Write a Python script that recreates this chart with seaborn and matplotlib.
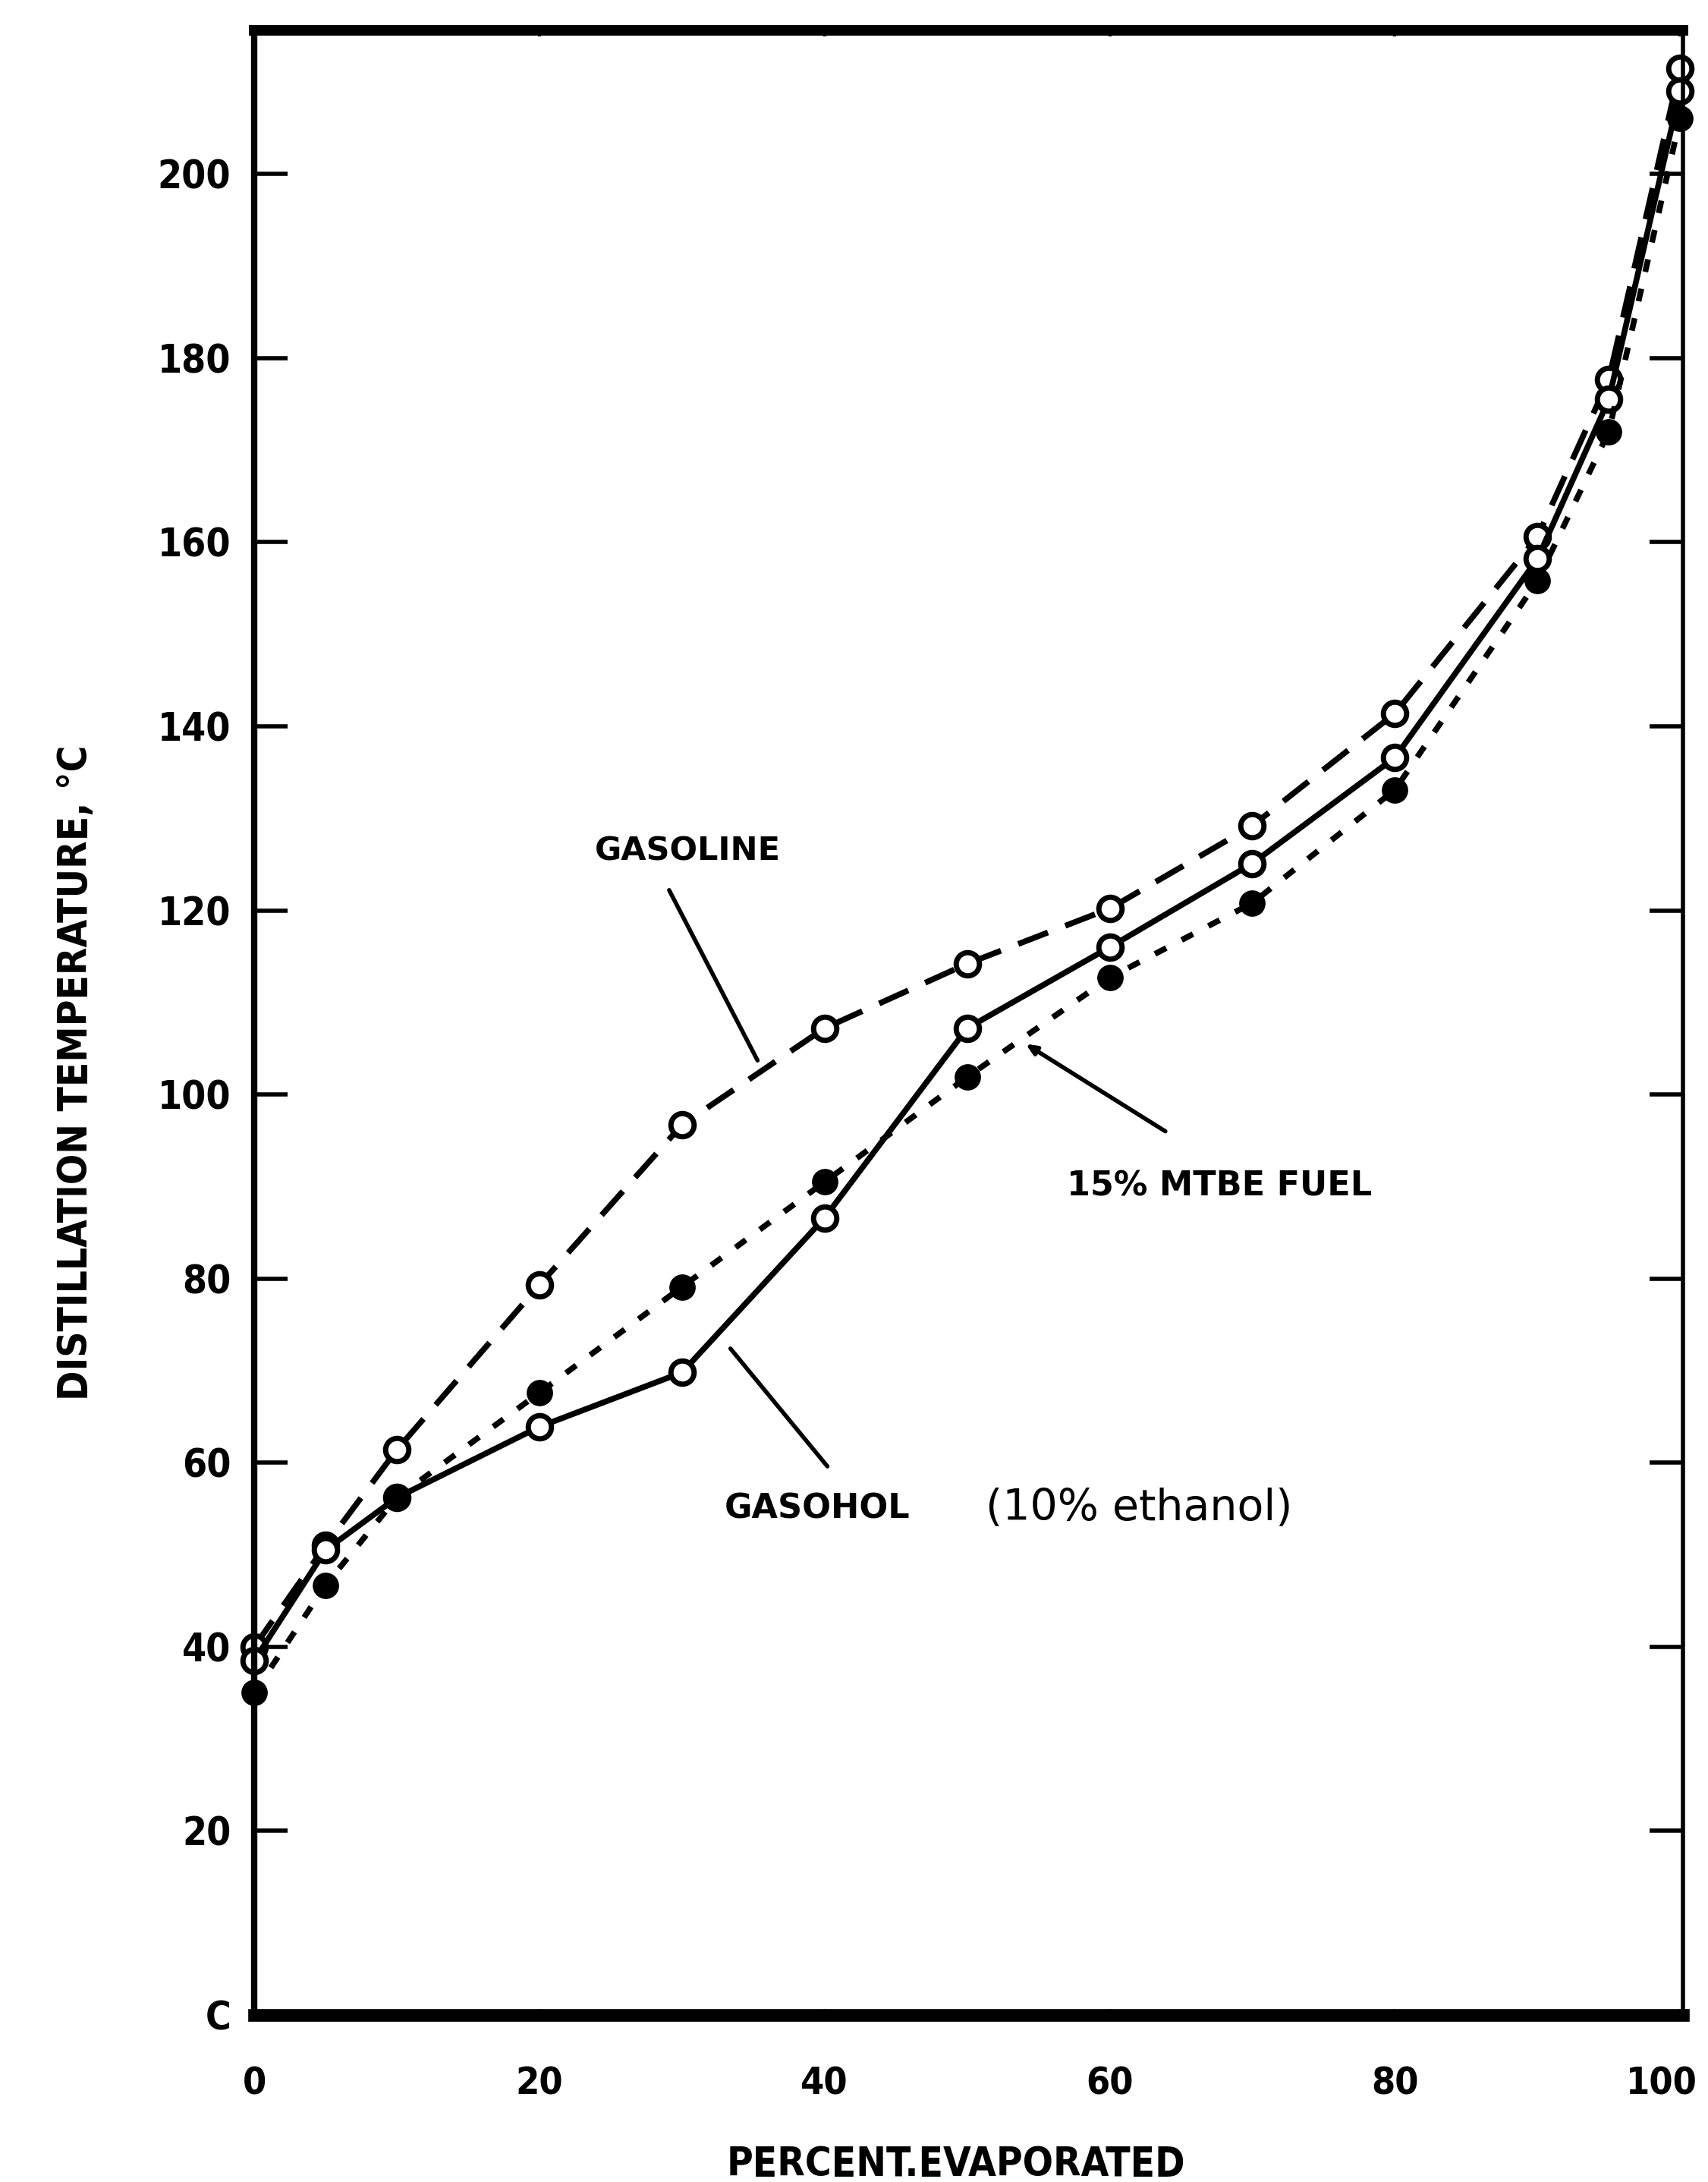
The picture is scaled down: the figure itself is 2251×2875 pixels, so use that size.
import matplotlib
matplotlib.use("Agg")
import matplotlib.pyplot as plt
import matplotlib.transforms as mtransforms
import seaborn as sns
import pandas as pd

# ---- data ----
pct = [0, 5, 10, 20, 30, 40, 50, 60, 70, 80, 90, 95, 100]
gasoline = [40, 51, 61.4, 79.3, 96.7, 107.2, 114.2, 120.2, 129.2, 141.4, 160.6, 177.7, 211.5]
gasohol = [38.5, 50.5, 56.2, 63.9, 69.8, 86.6, 107.2, 116.0, 125.1, 136.6, 158.2, 175.5, 209.0]
mtbe = [35.0, 46.7, 56.2, 67.6, 79.1, 90.5, 101.9, 112.7, 120.8, 133.1, 155.8, 172.0, 206.0]

yticks = [0, 20, 40, 60, 80, 100, 120, 140, 160, 180, 200]
yticklabels = ["C", "20", "40", "60", "80", "100", "120", "140", "160", "180", "200"]
xticks = [0, 20, 40, 60, 80, 100]
xticklabels = ["0", "20", "40", "60", "80", "100"]

df = pd.DataFrame({"pct": pct, "gasoline": gasoline, "gasohol": gasohol, "mtbe": mtbe})

sns.set_style("ticks")
plt.rcParams["font.family"] = ["DejaVu Sans"]
for k in ["text.color", "axes.labelcolor", "xtick.color", "ytick.color", "axes.edgecolor"]:
    plt.rcParams[k] = "black"

W, H = 2251, 2875
fig = plt.figure(figsize=(W / 100, H / 100), dpi=100)
ax = fig.add_axes([335 / W, 1 - 2655 / H, (2218 - 335) / W, (2655 - 40) / H])

LW = 5.5
sns.lineplot(data=df, x="pct", y="gasoline", ax=ax, color="black", lw=LW,
             marker="o", markersize=22, markerfacecolor="white",
             markeredgecolor="black", markeredgewidth=5, clip_on=False)
ax.lines[-1].set_dashes((5.5, 3.2))
sns.lineplot(data=df, x="pct", y="gasohol", ax=ax, color="black", lw=LW,
             marker="o", markersize=22, markerfacecolor="white",
             markeredgecolor="black", markeredgewidth=5, clip_on=False)
sns.lineplot(data=df, x="pct", y="mtbe", ax=ax, color="black", lw=LW,
             marker="o", markersize=24, markerfacecolor="black",
             markeredgecolor="black", markeredgewidth=1, clip_on=False)
ax.lines[-1].set_dashes((2.2, 3.0))

ax.set_xlim(0, 100.2)
ax.set_ylim(0, 215.6)

cond = {"family": ["Liberation Sans Narrow", "DejaVu Sans"], "weight": "bold",
        "stretch": "condensed"}
ax.set_yticks(yticks)
ax.set_yticklabels(yticklabels, fontdict=dict(cond, size=37))
ax.set_xticks(xticks)
ax.set_xticklabels(xticklabels, fontdict=dict(cond, size=36))
ax.tick_params(axis="y", direction="in", length=32, width=4, pad=22,
               left=True, right=True)
ax.tick_params(axis="x", direction="in", length=6, width=3, pad=48,
               bottom=True, top=True)
# nudge the last x label ("100") left so it stays on the page
last = ax.get_xticklabels()[-1]
last.set_transform(last.get_transform() +
                   mtransforms.ScaledTranslation(-0.24, 0, fig.dpi_scale_trans))

for side, w in [("top", 10), ("bottom", 12), ("left", 6), ("right", 4)]:
    ax.spines[side].set_visible(True)
    ax.spines[side].set_linewidth(w)
    ax.spines[side].set_color("black")

ax.set_xlabel("PERCENT.EVAPORATED", fontdict=dict(cond, size=38))
ax.xaxis.label.set_va("center")
ax.xaxis.set_label_coords(0.491, -0.0755)
ax.set_ylabel("DISTILLATION TEMPERATURE, °C", fontdict=dict(cond, size=38))
ax.yaxis.label.set_va("center")
ax.yaxis.set_label_coords(-0.125, 0.475)

# annotations
txt = {"family": ["DejaVu Sans"], "weight": "bold", "size": 31}
ax.text(30.4, 126.4, "GASOLINE", ha="center", va="center", fontdict=txt)
ax.annotate("", xy=(35.3, 103.7), xytext=(29.1, 122.2),
            arrowprops=dict(arrowstyle="-", lw=4, color="black", shrinkA=0, shrinkB=0))

ax.text(57.0, 90.0, "15% MTBE FUEL", ha="left", va="center",
        fontdict=dict(txt, size=32))
ax.annotate("", xy=(54.1, 105.5), xytext=(63.9, 96.0),
            arrowprops=dict(arrowstyle="-|>,head_length=0.8,head_width=0.35",
                            lw=4, color="black", shrinkA=0, shrinkB=0))

ax.text(33.0, 55.0, "GASOHOL", ha="left", va="center", fontdict=dict(txt, size=32))
ax.annotate("", xy=(33.4, 72.4), xytext=(40.2, 59.6),
            arrowprops=dict(arrowstyle="-", lw=4, color="black", shrinkA=0, shrinkB=0))
ax.text(51.3, 55.0, "(10% ethanol)", ha="left", va="center",
        fontdict={"family": ["DejaVu Sans"], "size": 41})

ax.grid(False)
fig.savefig("out.png", dpi=100, facecolor="white")
